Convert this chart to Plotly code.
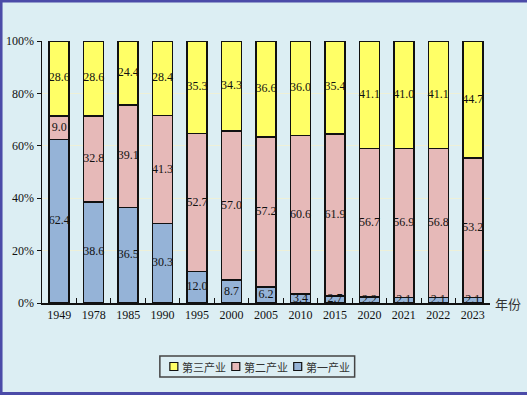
import plotly.graph_objects as go

years = ["1949", "1978", "1985", "1990", "1995", "2000", "2005", "2010", "2015", "2020", "2021", "2022", "2023"]
primary = [62.4, 38.6, 36.5, 30.3, 12.0, 8.7, 6.2, 3.4, 2.7, 2.2, 2.1, 2.1, 2.1]
secondary = [9.0, 32.8, 39.1, 41.3, 52.7, 57.0, 57.2, 60.6, 61.9, 56.7, 56.9, 56.8, 53.2]
tertiary = [28.6, 28.6, 24.4, 28.4, 35.3, 34.3, 36.6, 36.0, 35.4, 41.1, 41.0, 41.1, 44.7]
names = ["第一产业", "第二产业", "第三产业"]
colors = ["#95B3D7", "#E6B9B8", "#FFFF66"]
y_ticks = [0, 20, 40, 60, 80, 100]

BG = "#DCEEF3"
W, H = 527, 395
ML, MR, MT, MB = 42, 36.5, 41, 92
pw = W - ML - MR
ph = H - MT - MB

def px(x):
    return (x - ML) / pw

def py(y):
    return (H - MB - y) / ph

series = [primary, secondary, tertiary]
fig = go.Figure()
for vals, name, col in zip(series, names, colors):
    fig.add_trace(go.Bar(
        x=years, y=vals, name=name,
        marker=dict(color=col, line=dict(color="#111111", width=1.5)),
        hoverinfo="skip",
    ))

# value labels on top of all bars, centred in each segment
base = [0.0] * len(years)
for vals in series:
    mids = [b + v / 2 for b, v in zip(base, vals)]
    fig.add_trace(go.Scatter(
        x=years, y=mids, mode="text",
        text=[f"{v:.1f}" for v in vals],
        textposition="middle center",
        textfont=dict(family="Liberation Serif", size=12, color="#111111"),
        cliponaxis=False, hoverinfo="skip", showlegend=False,
    ))
    base = [b + v for b, v in zip(base, vals)]

# manual legend (order: 第三, 第二, 第一)
shapes = [dict(
    type="rect", xref="paper", yref="paper",
    x0=px(160), x1=px(355), y0=py(377), y1=py(356),
    line=dict(color="#444444", width=1.5), fillcolor=BG, layer="above",
)]
annotations = []
leg_x = [170, 232, 294]
for i, idx in enumerate([2, 1, 0]):
    sx = leg_x[i]
    shapes.append(dict(
        type="rect", xref="paper", yref="paper",
        x0=px(sx), x1=px(sx + 8), y0=py(370.5), y1=py(362.5),
        line=dict(color="#111111", width=1.2), fillcolor=colors[idx], layer="above",
    ))
    annotations.append(dict(
        text=names[idx], xref="paper", yref="paper",
        x=px(sx + 10), y=py(366.5), xanchor="left", yanchor="middle",
        showarrow=False, font=dict(family="Noto Sans CJK SC", size=11, color="#333333"),
    ))

annotations.append(dict(
    text="年份", xref="paper", yref="paper",
    x=px(494), y=0, xanchor="left", yanchor="middle",
    showarrow=False, font=dict(family="Noto Sans CJK SC", size=13, color="#333333"),
))

shapes.append(dict(
    type="rect", xref="paper", yref="paper",
    x0=px(1), x1=px(W + 10), y0=py(H - 1.5), y1=py(1),
    line=dict(color="#4B4BA8", width=3), layer="above",
))

fig.update_layout(
    barmode="stack",
    bargap=0.42,
    width=W, height=H,
    margin=dict(l=ML, r=MR, t=MT, b=MB, pad=0, autoexpand=False),
    paper_bgcolor=BG, plot_bgcolor=BG,
    font=dict(family="Liberation Serif", size=12, color="#111111"),
    showlegend=False,
    xaxis=dict(
        type="category", range=[-0.5, len(years) - 0.5],
        showline=True, linecolor="#111111", linewidth=1.5,
        ticks="inside", tickson="boundaries", ticklen=5, tickcolor="#111111",
        showgrid=False, tickfont=dict(family="Liberation Serif", size=12),
        automargin=False,
    ),
    yaxis=dict(
        range=[0, 100], tickmode="array", tickvals=y_ticks,
        ticktext=[f"{t}%" for t in y_ticks],
        showline=True, linecolor="#111111", linewidth=1.5,
        ticks="outside", ticklen=4, tickcolor="#111111",
        showgrid=True, gridcolor="#EEF0D8", gridwidth=1, zeroline=False,
        tickfont=dict(family="Liberation Serif", size=12),
        automargin=False,
    ),
    annotations=annotations,
    shapes=shapes,
)

fig.write_html(
    "out.html",
    config={"displayModeBar": False, "staticPlot": True},
    post_script="document.body.style.margin='0';document.body.style.overflow='hidden';document.body.style.background='" + BG + "';",
)
